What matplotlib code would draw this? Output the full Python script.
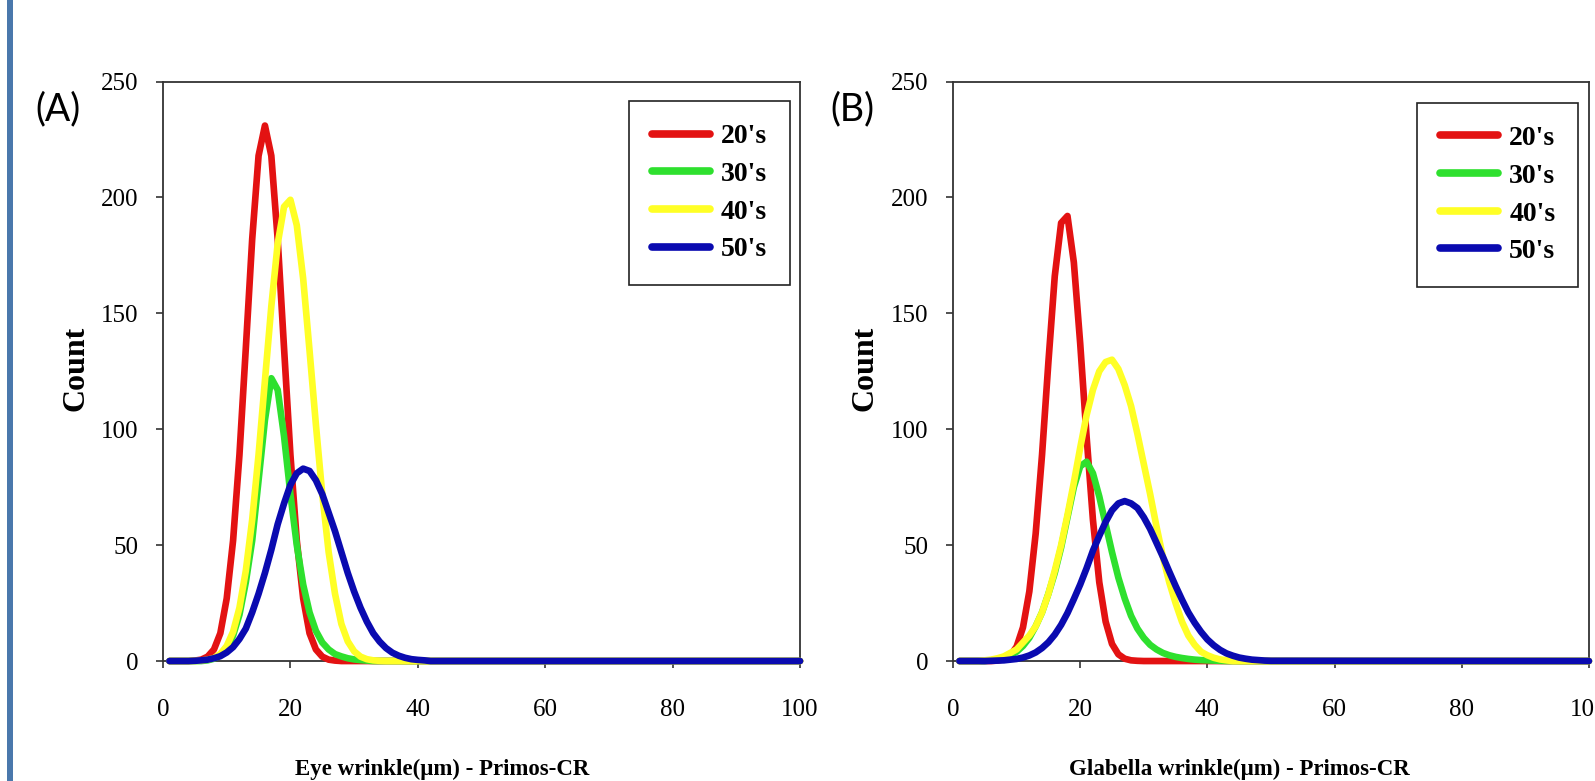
import matplotlib
matplotlib.use("Agg")
import matplotlib.pyplot as plt
from matplotlib.patches import Rectangle

# x positions (um) of the sampled curve points, last point closes the flat tail
x_um = list(range(1, 51)) + [100]

# (A) Eye wrinkle - counts per age group
eye_20s = [0, 0, 0, 0, 0.2, 0.6, 1.9, 5, 12, 27,
           52, 89, 135, 182, 218, 231, 218, 182, 135, 89,
           52, 27, 12, 5, 1.9, 0.6, 0.2, 0, 0, 0,
           0, 0, 0, 0, 0, 0, 0, 0, 0, 0,
           0, 0, 0, 0, 0, 0, 0, 0, 0, 0, 0]
eye_30s = [0, 0, 0, 0, 0, 0, 0.3, 1, 2.5, 5.5,
           11, 20, 34, 52, 78, 104, 122, 117, 97, 72,
           50, 33, 21, 13, 8, 5, 3, 2, 1.2, 0.7,
           0.4, 0.2, 0, 0, 0, 0, 0, 0, 0, 0,
           0, 0, 0, 0, 0, 0, 0, 0, 0, 0, 0]
eye_40s = [0, 0, 0, 0, 0, 0.2, 0.6, 1.3, 3.1, 6.5,
           12.6, 23, 39, 61, 89, 121, 153, 180, 196, 199,
           188, 165, 134, 102, 72, 47, 29, 16, 8.5, 4.2,
           1.9, 0.8, 0.3, 0.1, 0, 0, 0, 0, 0, 0,
           0, 0, 0, 0, 0, 0, 0, 0, 0, 0, 0]
eye_50s = [0, 0, 0, 0, 0.1, 0.3, 0.6, 1.2, 2.1, 3.7,
           6, 9.5, 14, 21, 29, 38, 48, 59, 68, 76,
           81, 83, 82, 78, 72, 64, 56, 47, 38, 30,
           23, 17, 12, 8.4, 5.6, 3.6, 2.3, 1.4, 0.8, 0.5,
           0.3, 0, 0, 0, 0, 0, 0, 0, 0, 0, 0]

# (B) Glabella wrinkle - counts per age group
gla_20s = [0, 0, 0, 0, 0, 0, 0.2, 0.8, 2.4, 6.2,
           14.5, 30, 55, 89, 129, 166, 189, 192, 172, 137,
           97, 61, 34, 17, 7.4, 2.9, 1, 0.3, 0.1, 0,
           0, 0, 0, 0, 0, 0, 0, 0, 0, 0,
           0, 0, 0, 0, 0, 0, 0, 0, 0, 0, 0]
gla_30s = [0, 0, 0, 0, 0, 0.3, 0.7, 1.4, 2.5, 4,
           6.5, 10, 15, 21, 29, 38, 49, 62, 75, 84,
           86, 81, 71, 59, 47, 36, 27, 19.5, 14, 10,
           7, 5, 3.5, 2.5, 1.8, 1.3, 0.9, 0.6, 0.4, 0.3,
           0.2, 0.1, 0, 0, 0, 0, 0, 0, 0, 0, 0]
gla_40s = [0, 0, 0, 0, 0.3, 0.6, 1.2, 2, 3.5, 5,
           8, 11, 15, 21, 29, 39, 50, 63, 77, 92,
           106, 117, 125, 129, 130, 126, 119, 110, 98, 85,
           72, 58, 45, 34, 25, 17, 11, 7, 4, 2.5,
           1.4, 0.7, 0.3, 0, 0, 0, 0, 0, 0, 0, 0]
gla_50s = [0, 0, 0, 0, 0, 0.1, 0.2, 0.3, 0.6, 0.9,
           1.5, 2.4, 3.7, 5.6, 8.1, 11.4, 15.6, 20.7, 26.7, 33,
           40, 47.6, 54, 60, 65, 68, 69, 68, 66, 62,
           57, 51, 45, 38.6, 32.4, 26.5, 21, 16.5, 12.6, 9.3,
           6.8, 4.8, 3.3, 2.3, 1.5, 1.0, 0.6, 0.4, 0.2, 0.1, 0]

age_labels = ["20's", "30's", "40's", "50's"]
age_colors = ['#e31212', '#2ee02e', '#ffff26', '#0a0ab0']
x_ticks = [0, 20, 40, 60, 80, 100]
y_ticks = [0, 50, 100, 150, 200, 250]

serif = ['Liberation Serif', 'DejaVu Serif']


def draw_panel(ax, series, xlabel, xlabel_x, count_x, tag, tag_xy, legend_anchor):
    for vals, lab, col in zip(series, age_labels, age_colors):
        ax.plot(x_um, vals, color=col, lw=4.8, label=lab, clip_on=False,
                solid_capstyle='round', solid_joinstyle='round')
    ax.set_xlim(0, 100)
    ax.set_ylim(0, 250)
    ax.set_xticks(x_ticks)
    ax.set_yticks(y_ticks)
    ax.tick_params(direction='out', length=5, width=1.2, color='#333333',
                   labelsize=18)
    ax.tick_params(axis='x', pad=22)
    ax.tick_params(axis='y', pad=13)
    for lbl in ax.get_xticklabels() + ax.get_yticklabels():
        lbl.set_family(serif)
    for sp in ax.spines.values():
        sp.set_color('#333333')
        sp.set_linewidth(1.3)
        sp.set_zorder(0.5)

    leg = ax.legend(loc='upper right', bbox_to_anchor=legend_anchor,
                    prop={'family': serif, 'weight': 'bold', 'size': 20},
                    frameon=True, fancybox=False, edgecolor='#222222',
                    framealpha=1, handlelength=2.1, handletextpad=0.4,
                    labelspacing=0.44, borderpad=0.82, borderaxespad=0)
    leg.get_frame().set_linewidth(1.2)
    for h in leg.get_lines():
        h.set_linewidth(5.5)

    fig.text(xlabel_x, 0.0154, xlabel, ha='center', va='center',
             family=serif, weight='bold', fontsize=16.5)
    fig.text(count_x, 1 - 368 / 781, 'Count', rotation=90, ha='center',
             va='center', family=serif, weight='bold', fontsize=23)
    fig.text(tag_xy[0], tag_xy[1], tag, ha='center', va='center',
             family=['Lato', 'DejaVu Sans'], fontsize=27)


fig = plt.figure(figsize=(15.95, 7.81), dpi=100)
fig.patch.set_facecolor('white')
fig.patches.append(Rectangle((0.0044, 0), 0.0037, 1, transform=fig.transFigure,
                             facecolor='#4a78ac', edgecolor='none'))

ax1 = fig.add_axes([0.1022, 0.1536, 0.3994, 0.742])
ax2 = fig.add_axes([0.5975, 0.1536, 0.3987, 0.742])

draw_panel(ax1, [eye_20s, eye_30s, eye_40s, eye_50s],
           'Eye wrinkle(\u03bcm) - Primos-CR', 442 / 1595, 76 / 1595,
           '(A)', (58 / 1595, 1 - 109 / 781), (0.984, 0.966))
draw_panel(ax2, [gla_20s, gla_30s, gla_40s, gla_50s],
           'Glabella wrinkle(\u03bcm) - Primos-CR', 1239 / 1595, 865 / 1595,
           '(B)', (852 / 1595, 1 - 109 / 781), (0.983, 0.963))

fig.savefig('out.png', dpi=100, facecolor='white')
